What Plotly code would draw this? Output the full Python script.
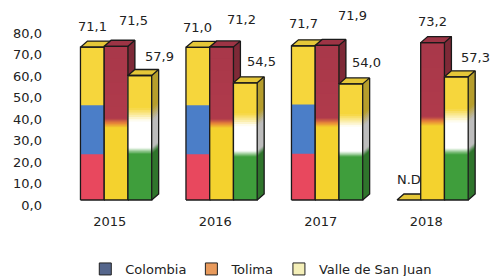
import plotly.graph_objects as go

# ---------------- data ----------------
YEARS = ["2015", "2016", "2017", "2018"]
COLOMBIA = [71.1, 71.0, 71.7, None]   # None = N.D (no data)
TOLIMA = [71.5, 71.2, 71.9, 73.2]
VALLE = [57.9, 54.5, 54.0, 57.3]
SERIES_NAMES = ["Colombia", "Tolima", "Valle de San Juan"]
Y_TICKS = [0, 10, 20, 30, 40, 50, 60, 70, 80]
ND_TEXT = "N.D"

# ---------------- style ----------------
BAR_W = 0.225
GROUP_SHIFT = 0.06
DEPTH_X = 0.066
DEPTH_Y = 2.8
PX_PER_UNIT = 2.15
Y_LO = -6 / PX_PER_UNIT
Y_HI = Y_LO + 194 / PX_PER_UNIT
TICK_OFF = 5 / PX_PER_UNIT
LABEL_DX = [[0, 0, 0, 0], [17, 20, 25, 0], [20, 16, 16, 19]]
LABEL_DY = [[21, 20, 22, 21], [26, 27, 30, 21], [19, 21, 21, 19]]
TEXT = "#222222"
FONT = "DejaVu Sans"

# flag colour stops (fraction of bar height, colour), bottom -> top
STOPS = [
    [(0.0, "#E8485E"), (0.30, "#E8485E"), (0.30, "#4B7EC8"), (0.62, "#4B7EC8"),
     (0.62, "#F6D63C"), (1.0, "#F6D63C")],
    [(0.0, "#F4D22E"), (0.47, "#F4D22E"), (0.50, "#E7843A"), (0.53, "#B03A4B"),
     (1.0, "#A8384A")],
    [(0.0, "#3F9E3C"), (0.37, "#3F9E3C"), (0.42, "#FFFFFF"), (0.63, "#FFFFFF"),
     (0.74, "#F6D63C"), (1.0, "#F6D63C")],
]
LEGEND_COLORS = ["#55668C", "#E89A5C", "#F4EFB8"]


def hex2rgb(h):
    h = h.lstrip("#")
    return tuple(int(h[i:i + 2], 16) for i in (0, 2, 4))


def rgb2hex(c):
    return "#%02x%02x%02x" % tuple(max(0, min(255, int(round(v)))) for v in c)


def mix(a, b, t):
    ra, rb = hex2rgb(a), hex2rgb(b)
    return rgb2hex([ra[i] + (rb[i] - ra[i]) * t for i in range(3)])


def shade(a, f):
    return rgb2hex([v * f for v in hex2rgb(a)])


def bands(stops):
    out = []
    for (s0, c0), (s1, c1) in zip(stops[:-1], stops[1:]):
        if s1 <= s0:
            continue
        if c0 == c1:
            out.append((s0, c0))
        else:
            n = 6
            for k in range(n):
                out.append((s0 + (s1 - s0) * k / n, mix(c0, c1, (k + 0.5) / n)))
    return out


def poly(xs, ys, color):
    return go.Scatter(x=xs + [xs[0]], y=ys + [ys[0]], mode="lines", fill="toself",
                      fillcolor=color, line=dict(width=0, color=color),
                      hoverinfo="skip", showlegend=False)


fig = go.Figure()
series = [COLOMBIA, TOLIMA, VALLE]
annotations = []

for i, yr in enumerate(YEARS):
    for s, vals in enumerate(series):
        v = vals[i]
        xc = i + GROUP_SHIFT + (s - 1) * BAR_W
        xl, xr = xc - BAR_W / 2, xc + BAR_W / 2
        top = 0.0 if v is None else v
        bl = bands(STOPS[s])
        if v is not None:
            for f0, col in bl:
                y0 = top * f0
                fig.add_trace(poly([xl, xr, xr, xl], [y0, y0, top, top], col))
            for f0, col in bl:
                y0 = top * f0
                fig.add_trace(poly([xr, xr + DEPTH_X, xr + DEPTH_X, xr],
                                   [y0, y0 + DEPTH_Y, top + DEPTH_Y, top], shade(col, 0.74)))
        capcol = shade(bl[-1][1], 0.93)
        fig.add_trace(poly([xl, xr, xr + DEPTH_X, xl + DEPTH_X],
                           [top, top, top + DEPTH_Y, top + DEPTH_Y], capcol))
        ox, oy = [], []
        if v is not None:
            ox += [xl, xr, xr, xl, xl, None]
            oy += [0, 0, top, top, 0, None]
            ox += [xr, xr + DEPTH_X, xr + DEPTH_X, None]
            oy += [0, DEPTH_Y, top + DEPTH_Y, None]
        ox += [xl, xr, xr + DEPTH_X, xl + DEPTH_X, xl]
        oy += [top, top, top + DEPTH_Y, top + DEPTH_Y, top]
        fig.add_trace(go.Scatter(x=ox, y=oy, mode="lines",
                                 line=dict(color="#1a1a1a", width=1.3),
                                 hoverinfo="skip", showlegend=False))
        txt = ND_TEXT if v is None else f"{v:.1f}".replace(".", ",")
        annotations.append(dict(x=xc, y=top, xref="x", yref="y", text=txt,
                                showarrow=False, xanchor="center", yanchor="middle",
                                xshift=LABEL_DX[s][i], yshift=LABEL_DY[s][i],
                                font=dict(family=FONT, size=13, color=TEXT)))

for name, col in zip(SERIES_NAMES, LEGEND_COLORS):
    fig.add_trace(go.Bar(x=[None], y=[None], name=name, marker=dict(color=col,
                         line=dict(color="#222222", width=1))))

fig.add_trace(go.Scatter(x=[None], y=[None], yaxis="y2", showlegend=False,
                         hoverinfo="skip"))

fig.update_layout(
    width=493, height=276,
    margin=dict(l=57, r=14, t=12, b=70),
    paper_bgcolor="white", plot_bgcolor="white",
    separators=",.",
    font=dict(family=FONT, size=13, color=TEXT),
    xaxis=dict(range=[-0.5, 3.5], tickvals=[0, 1, 2, 3], ticktext=YEARS,
               showgrid=False, zeroline=False, showline=False, ticks="",
               ticklabelstandoff=6, fixedrange=True),
    yaxis=dict(range=[Y_LO, Y_HI], showticklabels=False, showgrid=False,
               zeroline=False, showline=False, ticks=""),
    yaxis2=dict(range=[Y_LO + TICK_OFF, Y_HI + TICK_OFF], overlaying="y", side="left",
                tickvals=Y_TICKS, tickformat=".1f", showgrid=False,
                zeroline=False, showline=False, ticks="", ticklabelstandoff=14),
    legend=dict(orientation="h", xref="container", x=0.53, xanchor="center",
                yref="container", y=0.0254, yanchor="middle", itemwidth=30,
                font=dict(family=FONT, size=13, color=TEXT)),
    annotations=annotations,
    showlegend=True,
)

fig.write_html(
    "out.html",
    config={"displayModeBar": False},
    post_script="document.body.style.margin='0';document.body.style.overflow='hidden';",
)
